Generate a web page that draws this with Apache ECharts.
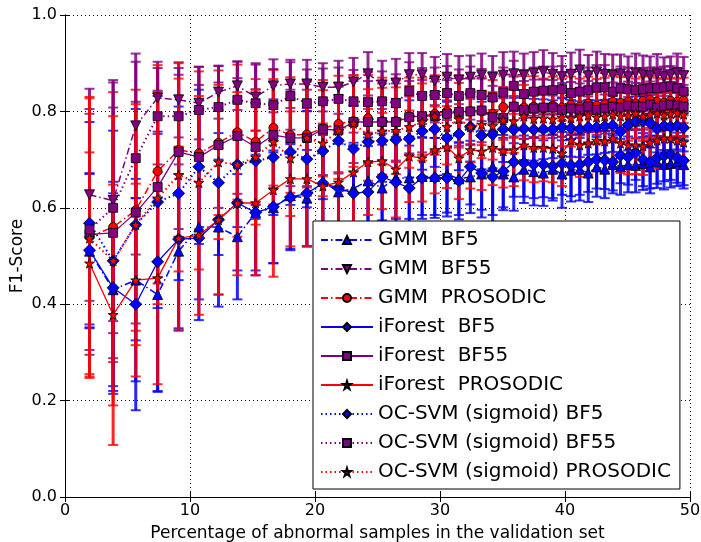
<!DOCTYPE html>
<html>
<head>
<meta charset="utf-8">
<script src="https://cdn.jsdelivr.net/npm/echarts@6/dist/echarts.min.js"></script>
<style>html,body{margin:0;padding:0;background:#fff}#c{width:701px;height:542px}</style>
</head>
<body>
<div id="c"></div>
<script>
// x: percentage of abnormal samples
const xValues = [1.96, 3.85, 5.66, 7.41, 9.09, 10.71, 12.28, 13.79, 15.25, 16.67, 18.03, 19.35, 20.63, 21.88, 23.08, 24.24, 25.37, 26.47, 27.54, 28.57, 29.58, 30.56, 31.51, 32.43, 33.33, 34.21, 35.06, 35.90, 36.71, 37.50, 38.27, 39.02, 39.76, 40.48, 41.18, 41.86, 42.53, 43.18, 43.82, 44.44, 45.05, 45.65, 46.24, 46.81, 47.37, 47.92, 48.45, 48.98, 49.49];

const seriesNames = ['GMM  BF5', 'GMM  BF55', 'GMM  PROSODIC', 'iForest  BF5', 'iForest  BF55', 'iForest  PROSODIC', 'OC-SVM (sigmoid) BF5', 'OC-SVM (sigmoid) BF55', 'OC-SVM (sigmoid) PROSODIC'];

const gmmBF5 = [0.51, 0.43, 0.45, 0.42, 0.51, 0.56, 0.56, 0.54, 0.59, 0.60, 0.625, 0.62, 0.655, 0.633, 0.64, 0.656, 0.641, 0.662, 0.662, 0.665, 0.665, 0.67, 0.66, 0.664, 0.67, 0.685, 0.67, 0.664, 0.68, 0.675, 0.672, 0.68, 0.67, 0.678, 0.68, 0.672, 0.685, 0.68, 0.69, 0.685, 0.69, 0.688, 0.692, 0.685, 0.695, 0.69, 0.692, 0.695, 0.69];
const gmmBF5Err = [0.16, 0.20, 0.21, 0.20, 0.16, 0.15, 0.14, 0.13, 0.12, 0.115, 0.11, 0.10, 0.10, 0.10, 0.095, 0.09, 0.09, 0.085, 0.085, 0.08, 0.08, 0.08, 0.075, 0.075, 0.09, 0.10, 0.075, 0.07, 0.07, 0.07, 0.068, 0.065, 0.07, 0.065, 0.065, 0.06, 0.062, 0.06, 0.06, 0.058, 0.058, 0.056, 0.055, 0.055, 0.054, 0.052, 0.05, 0.05, 0.05];

const gmmBF55 = [0.627, 0.615, 0.77, 0.828, 0.824, 0.817, 0.84, 0.853, 0.83, 0.853, 0.857, 0.857, 0.85, 0.85, 0.861, 0.878, 0.855, 0.859, 0.876, 0.876, 0.863, 0.871, 0.865, 0.871, 0.875, 0.87, 0.875, 0.878, 0.875, 0.879, 0.882, 0.877, 0.872, 0.877, 0.886, 0.874, 0.882, 0.877, 0.875, 0.878, 0.872, 0.88, 0.876, 0.874, 0.878, 0.872, 0.876, 0.88, 0.874];
const gmmBF55Err = [0.22, 0.25, 0.15, 0.075, 0.078, 0.075, 0.055, 0.05, 0.07, 0.055, 0.05, 0.05, 0.05, 0.055, 0.05, 0.045, 0.05, 0.05, 0.045, 0.045, 0.05, 0.048, 0.05, 0.045, 0.045, 0.045, 0.048, 0.046, 0.045, 0.044, 0.045, 0.044, 0.043, 0.045, 0.042, 0.043, 0.042, 0.042, 0.043, 0.04, 0.042, 0.04, 0.04, 0.04, 0.041, 0.04, 0.038, 0.04, 0.039];

const gmmPros = [0.54, 0.56, 0.595, 0.676, 0.72, 0.713, 0.735, 0.757, 0.737, 0.766, 0.751, 0.752, 0.765, 0.774, 0.78, 0.786, 0.78, 0.78, 0.79, 0.79, 0.795, 0.80, 0.80, 0.80, 0.80, 0.795, 0.809, 0.81, 0.808, 0.81, 0.806, 0.812, 0.808, 0.814, 0.81, 0.816, 0.812, 0.815, 0.82, 0.818, 0.82, 0.816, 0.822, 0.824, 0.82, 0.818, 0.822, 0.82, 0.823];
const gmmProsErr = [0.29, 0.28, 0.25, 0.22, 0.18, 0.17, 0.15, 0.14, 0.13, 0.12, 0.12, 0.11, 0.10, 0.10, 0.095, 0.09, 0.09, 0.085, 0.08, 0.08, 0.08, 0.075, 0.075, 0.07, 0.07, 0.07, 0.068, 0.065, 0.065, 0.063, 0.062, 0.06, 0.06, 0.058, 0.058, 0.056, 0.055, 0.055, 0.054, 0.053, 0.052, 0.052, 0.05, 0.05, 0.05, 0.049, 0.048, 0.048, 0.047];

const ifBF5 = [0.512, 0.434, 0.40, 0.488, 0.535, 0.537, 0.575, 0.61, 0.59, 0.602, 0.622, 0.63, 0.651, 0.641, 0.63, 0.633, 0.664, 0.653, 0.641, 0.662, 0.662, 0.662, 0.656, 0.685, 0.672, 0.664, 0.676, 0.695, 0.693, 0.69, 0.69, 0.686, 0.692, 0.688, 0.69, 0.695, 0.70, 0.699, 0.695, 0.709, 0.705, 0.714, 0.70, 0.695, 0.704, 0.708, 0.71, 0.704, 0.698];
const ifBF5Err = [0.16, 0.22, 0.22, 0.27, 0.19, 0.17, 0.18, 0.14, 0.13, 0.117, 0.11, 0.11, 0.10, 0.10, 0.10, 0.095, 0.09, 0.09, 0.088, 0.085, 0.083, 0.08, 0.08, 0.078, 0.076, 0.095, 0.075, 0.072, 0.07, 0.07, 0.068, 0.066, 0.065, 0.064, 0.063, 0.062, 0.06, 0.06, 0.059, 0.058, 0.057, 0.056, 0.055, 0.055, 0.054, 0.053, 0.052, 0.052, 0.051];

const ifBF55 = [0.545, 0.548, 0.59, 0.643, 0.716, 0.705, 0.73, 0.749, 0.726, 0.751, 0.745, 0.745, 0.763, 0.761, 0.778, 0.778, 0.778, 0.778, 0.788, 0.79, 0.79, 0.795, 0.799, 0.80, 0.802, 0.788, 0.786, 0.81, 0.803, 0.806, 0.808, 0.808, 0.803, 0.806, 0.804, 0.81, 0.803, 0.806, 0.81, 0.808, 0.812, 0.81, 0.81, 0.814, 0.808, 0.812, 0.814, 0.812, 0.81];
const ifBF55Err = [0.25, 0.26, 0.23, 0.20, 0.16, 0.15, 0.13, 0.12, 0.12, 0.11, 0.10, 0.10, 0.095, 0.09, 0.085, 0.085, 0.08, 0.08, 0.075, 0.075, 0.072, 0.07, 0.07, 0.068, 0.066, 0.065, 0.064, 0.062, 0.06, 0.06, 0.058, 0.057, 0.056, 0.055, 0.054, 0.053, 0.052, 0.052, 0.05, 0.05, 0.05, 0.049, 0.048, 0.048, 0.047, 0.046, 0.046, 0.045, 0.045];

const ifPros = [0.485, 0.378, 0.45, 0.454, 0.537, 0.543, 0.575, 0.61, 0.61, 0.637, 0.66, 0.66, 0.645, 0.653, 0.674, 0.695, 0.697, 0.68, 0.707, 0.703, 0.72, 0.726, 0.703, 0.72, 0.717, 0.725, 0.718, 0.72, 0.73, 0.725, 0.725, 0.723, 0.713, 0.74, 0.73, 0.734, 0.74, 0.738, 0.744, 0.734, 0.73, 0.73, 0.728, 0.735, 0.74, 0.744, 0.744, 0.74, 0.736];
const ifProsErr = [0.23, 0.27, 0.20, 0.22, 0.19, 0.165, 0.155, 0.15, 0.15, 0.18, 0.14, 0.14, 0.13, 0.12, 0.11, 0.11, 0.10, 0.10, 0.095, 0.09, 0.09, 0.085, 0.085, 0.08, 0.08, 0.078, 0.076, 0.075, 0.073, 0.072, 0.07, 0.07, 0.068, 0.067, 0.066, 0.065, 0.064, 0.063, 0.062, 0.062, 0.061, 0.06, 0.06, 0.059, 0.058, 0.058, 0.057, 0.056, 0.056];

const svmBF5 = [0.568, 0.49, 0.565, 0.612, 0.63, 0.685, 0.652, 0.69, 0.697, 0.705, 0.716, 0.701, 0.718, 0.739, 0.722, 0.737, 0.739, 0.741, 0.743, 0.759, 0.763, 0.745, 0.753, 0.768, 0.75, 0.752, 0.763, 0.762, 0.764, 0.762, 0.763, 0.763, 0.767, 0.765, 0.763, 0.767, 0.767, 0.769, 0.771, 0.758, 0.772, 0.779, 0.78, 0.776, 0.765, 0.77, 0.768, 0.77, 0.766];
const svmBF5Err = [0.21, 0.27, 0.24, 0.22, 0.18, 0.16, 0.15, 0.13, 0.12, 0.12, 0.11, 0.10, 0.10, 0.095, 0.09, 0.09, 0.085, 0.085, 0.08, 0.08, 0.078, 0.075, 0.075, 0.072, 0.07, 0.07, 0.068, 0.066, 0.065, 0.064, 0.062, 0.06, 0.06, 0.059, 0.058, 0.057, 0.056, 0.055, 0.055, 0.054, 0.053, 0.052, 0.052, 0.051, 0.05, 0.05, 0.05, 0.049, 0.049];

const svmBF55 = [0.555, 0.60, 0.703, 0.79, 0.79, 0.803, 0.809, 0.824, 0.817, 0.813, 0.832, 0.817, 0.821, 0.826, 0.821, 0.819, 0.821, 0.817, 0.842, 0.832, 0.834, 0.838, 0.832, 0.838, 0.834, 0.829, 0.839, 0.853, 0.836, 0.841, 0.843, 0.844, 0.846, 0.838, 0.841, 0.844, 0.85, 0.85, 0.841, 0.848, 0.846, 0.844, 0.846, 0.848, 0.848, 0.85, 0.852, 0.848, 0.841];
const svmBF55Err = [0.25, 0.26, 0.20, 0.10, 0.10, 0.09, 0.085, 0.08, 0.08, 0.075, 0.07, 0.07, 0.068, 0.065, 0.065, 0.063, 0.062, 0.06, 0.06, 0.058, 0.057, 0.056, 0.055, 0.055, 0.054, 0.053, 0.052, 0.052, 0.05, 0.05, 0.05, 0.049, 0.048, 0.048, 0.047, 0.047, 0.046, 0.046, 0.045, 0.045, 0.045, 0.044, 0.044, 0.043, 0.043, 0.043, 0.042, 0.042, 0.042];

const svmPros = [0.537, 0.49, 0.565, 0.62, 0.668, 0.652, 0.695, 0.69, 0.705, 0.737, 0.703, 0.745, 0.734, 0.76, 0.775, 0.751, 0.759, 0.76, 0.768, 0.778, 0.79, 0.768, 0.784, 0.768, 0.773, 0.77, 0.782, 0.78, 0.79, 0.785, 0.786, 0.784, 0.788, 0.786, 0.79, 0.792, 0.788, 0.79, 0.794, 0.79, 0.792, 0.796, 0.79, 0.794, 0.796, 0.792, 0.795, 0.797, 0.794];
const svmProsErr = [0.29, 0.30, 0.25, 0.22, 0.20, 0.18, 0.16, 0.15, 0.14, 0.13, 0.12, 0.12, 0.11, 0.10, 0.10, 0.095, 0.09, 0.09, 0.085, 0.08, 0.08, 0.078, 0.075, 0.073, 0.07, 0.07, 0.068, 0.066, 0.065, 0.063, 0.062, 0.06, 0.06, 0.059, 0.058, 0.057, 0.056, 0.055, 0.054, 0.054, 0.053, 0.052, 0.051, 0.05, 0.05, 0.05, 0.049, 0.048, 0.048];

const xTicks = [0, 10, 20, 30, 40, 50];
const yTicks = [0.0, 0.2, 0.4, 0.6, 0.8, 1.0];

// ---------- styling ----------
const BLUE = '#0000ff', PURPLE = '#800080', RED = '#ff0000';
const STAR = 'path://M50,0 L61.2,34.5 L97.6,34.5 L68.2,55.9 L79.4,90.5 L50,69.1 L20.6,90.5 L31.8,55.9 L2.4,34.5 L38.8,34.5 Z';
const DASHDOT = [7, 3, 1.5, 3];
const DOTTED = [1.5, 3];
const FONT = 'DejaVu Sans';

const values = [gmmBF5, gmmBF55, gmmPros, ifBF5, ifBF55, ifPros, svmBF5, svmBF55, svmPros];
const errors = [gmmBF5Err, gmmBF55Err, gmmProsErr, ifBF5Err, ifBF55Err, ifProsErr, svmBF5Err, svmBF55Err, svmProsErr];
const styles = [
  {color: BLUE, symbol: 'triangle', size: 10, rotate: 0, type: DASHDOT, w: 1.5},
  {color: PURPLE, symbol: 'triangle', size: 10, rotate: 180, type: DASHDOT, w: 1.5},
  {color: RED, symbol: 'circle', size: 9, rotate: 0, type: DASHDOT, w: 1.5},
  {color: BLUE, symbol: 'diamond', size: 12, rotate: 0, type: 'solid', w: 1.3},
  {color: PURPLE, symbol: 'rect', size: 9, rotate: 0, type: 'solid', w: 1.3},
  {color: RED, symbol: STAR, size: 10, rotate: 0, type: 'solid', w: 1.3},
  {color: BLUE, symbol: 'diamond', size: 12, rotate: 0, type: DOTTED, w: 2},
  {color: PURPLE, symbol: 'rect', size: 9, rotate: 0, type: DOTTED, w: 2},
  {color: RED, symbol: STAR, size: 10, rotate: 0, type: DOTTED, w: 2}
];

const series = [];
// error bars first (drawn below)
values.forEach((vals, i) => {
  const st = styles[i];
  series.push({
    type: 'custom',
    name: 'err' + i,
    z: 1,
    silent: true,
    clip: true,
    data: vals.map((v, j) => [xValues[j], v, errors[i][j]]),
    encode: {x: 0, y: 1},
    renderItem: function (params, api) {
      const x = api.value(0), y = api.value(1), e = api.value(2);
      const top = api.coord([x, y + e]);
      const bot = api.coord([x, y - e]);
      const cw = 5;
      const s = {stroke: st.color, lineWidth: 3, opacity: 0.85};
      const c = {stroke: st.color, lineWidth: 2, opacity: 0.8};
      return {
        type: 'group',
        children: [
          {type: 'line', shape: {x1: top[0], y1: top[1], x2: bot[0], y2: bot[1]}, style: s},
          {type: 'line', shape: {x1: top[0] - cw, y1: top[1], x2: top[0] + cw, y2: top[1]}, style: c},
          {type: 'line', shape: {x1: bot[0] - cw, y1: bot[1], x2: bot[0] + cw, y2: bot[1]}, style: c}
        ]
      };
    }
  });
});
values.forEach((vals, i) => {
  const st = styles[i];
  series.push({
    type: 'line',
    name: seriesNames[i],
    z: 3,
    data: vals.map((v, j) => [xValues[j], v]),
    symbol: st.symbol,
    symbolSize: st.size,
    symbolRotate: st.rotate,
    showAllSymbol: true,
    lineStyle: {color: st.color, width: st.w, type: st.type},
    itemStyle: {color: st.color, borderColor: '#000', borderWidth: 0.8},
    emphasis: {disabled: true}
  });
});

const chart = echarts.init(document.getElementById('c'), null, {renderer: 'canvas'});
chart.setOption({
  animation: false,
  backgroundColor: '#fff',
  grid: {left: 65, right: 11, top: 15, bottom: 45, show: false, containLabel: false, outerBoundsMode: 'none'},
  legend: {
    data: seriesNames,
    orient: 'vertical',
    left: 313,
    top: 221,
    padding: [8, 9, 6, 7],
    itemWidth: 52,
    itemHeight: 10,
    itemGap: 7,
    backgroundColor: '#fff',
    borderColor: '#000',
    borderWidth: 1,
    borderRadius: 0,
    selectedMode: false,
    textStyle: {fontFamily: FONT, fontSize: 20, color: '#000', lineHeight: 22}
  },
  xAxis: [{
    type: 'value', min: xTicks[0], max: xTicks[xTicks.length - 1], interval: 10,
    name: 'Percentage of abnormal samples in the validation set',
    nameLocation: 'middle', nameGap: 28, nameMoveOverlap: false,
    nameTextStyle: {fontFamily: FONT, fontSize: 17, color: '#000'},
    axisLine: {show: true, lineStyle: {color: '#000', width: 1}},
    axisTick: {show: true, inside: true, length: 5, lineStyle: {color: '#000'}},
    axisLabel: {fontFamily: FONT, fontSize: 16, color: '#000', margin: 6},
    splitLine: {show: true, lineStyle: {color: '#000', type: [1, 3], width: 1}}
  }, {
    type: 'value', position: 'top', min: xTicks[0], max: xTicks[xTicks.length - 1], interval: 10,
    axisLine: {show: true, lineStyle: {color: '#000', width: 1}},
    axisTick: {show: true, inside: true, length: 5, lineStyle: {color: '#000'}},
    axisLabel: {show: false}, splitLine: {show: false}
  }],
  yAxis: [{
    type: 'value', min: yTicks[0], max: yTicks[yTicks.length - 1], interval: 0.2,
    name: 'F1-Score', nameLocation: 'middle', nameGap: 39, nameMoveOverlap: false,
    nameTextStyle: {fontFamily: FONT, fontSize: 17, color: '#000'},
    axisLine: {show: true, lineStyle: {color: '#000', width: 1}},
    axisTick: {show: true, inside: true, length: 5, lineStyle: {color: '#000'}},
    axisLabel: {fontFamily: FONT, fontSize: 16, color: '#000', margin: 8, formatter: v => v.toFixed(1)},
    splitLine: {show: true, lineStyle: {color: '#000', type: [1, 3], width: 1}}
  }, {
    type: 'value', position: 'right', min: yTicks[0], max: yTicks[yTicks.length - 1], interval: 0.2,
    axisLine: {show: true, lineStyle: {color: '#000', width: 1}},
    axisTick: {show: true, inside: true, length: 5, lineStyle: {color: '#000'}},
    axisLabel: {show: false}, splitLine: {show: false}
  }],
  series: series
});
</script>
</body>
</html>
